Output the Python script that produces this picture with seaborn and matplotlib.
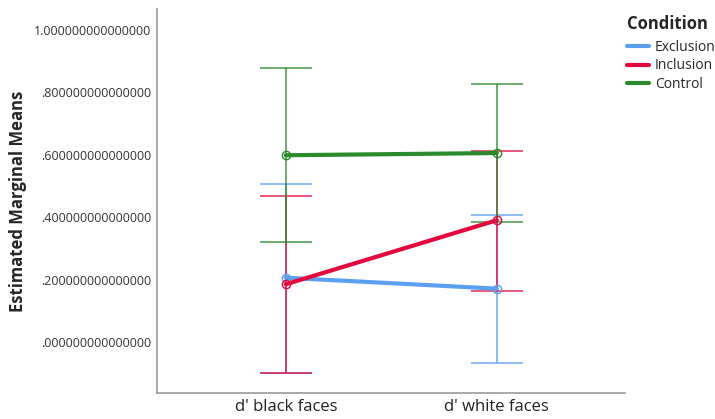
import numpy as np
import pandas as pd
import seaborn as sns
import matplotlib.pyplot as plt

# values
faces = ["d' black faces", "d' white faces"]
conditions = ["Exclusion", "Inclusion", "Control"]
exclusion_mean = [0.206, 0.171]
exclusion_low = [-0.098, -0.068]
exclusion_high = [0.506, 0.407]
inclusion_mean = [0.185, 0.390]
inclusion_low = [-0.100, 0.162]
inclusion_high = [0.469, 0.613]
control_mean = [0.598, 0.605]
control_low = [0.319, 0.385]
control_high = [0.877, 0.827]
yticks = [0.0, 0.2, 0.4, 0.6, 0.8, 1.0]

colors = {"Exclusion": "#5b9ff0", "Inclusion": "#e2093f", "Control": "#2b8a2b"}

means = {"Exclusion": exclusion_mean, "Inclusion": inclusion_mean, "Control": control_mean}
lows = {"Exclusion": exclusion_low, "Inclusion": inclusion_low, "Control": control_low}
highs = {"Exclusion": exclusion_high, "Inclusion": inclusion_high, "Control": control_high}

rows = []
for c in conditions:
    for f, m in zip(faces, means[c]):
        rows.append({"Face": f, "Condition": c, "Mean": m})
df = pd.DataFrame(rows)

sns.set_style("white")
plt.rcParams['font.family'] = ['Open Sans', 'DejaVu Sans']

fig = plt.figure(figsize=(7.15, 4.19), dpi=100)
ax = fig.add_axes([0.2196, 0.062, 0.874 - 0.2196, 0.9785 - 0.062])

# error bars first (thin, semi transparent)
for c in conditions:
    m = np.array(means[c])
    lo = m - np.array(lows[c])
    hi = np.array(highs[c]) - m
    ax.errorbar(faces, m, yerr=[lo, hi], fmt='none', ecolor=colors[c],
                elinewidth=1.3, capsize=19, capthick=1.3, alpha=0.75, zorder=2)

sns.lineplot(data=df, x="Face", y="Mean", hue="Condition", hue_order=conditions,
             palette=colors, linewidth=3, marker='o', markersize=6, ax=ax, zorder=3)

# hollow markers like SPSS
for line in ax.lines:
    if line.get_marker() == 'o':
        line.set_markeredgecolor(line.get_color())
        line.set_markerfacecolor('none')
        line.set_markeredgewidth(1.0)

ax.set_xlim(-0.61, 1.607)
ax.set_ylim(-0.163, 1.066)
ax.set_yticks(yticks)
ax.set_yticklabels([f"{v:.15f}".lstrip('0') if v < 1 else f"{v:.15f}" for v in yticks])
ax.tick_params(axis='y', length=0, labelsize=9, labelcolor='#333333', pad=4)
ax.tick_params(axis='x', length=0, labelsize=12, labelcolor='#222222', pad=4)
ax.set_xlabel("")
ax.set_ylabel("Estimated Marginal Means", fontsize=12, fontweight='bold', labelpad=5)

for s in ['top', 'right']:
    ax.spines[s].set_visible(False)
for s in ['left', 'bottom']:
    ax.spines[s].set_color('#999999')
    ax.spines[s].set_linewidth(1.2)

handles, labels = ax.get_legend_handles_labels()
for h in handles:
    h.set_marker('')
leg = ax.legend(handles, labels, loc='upper left',
                bbox_to_anchor=(627 / 715, 1 - 40 / 419), bbox_transform=fig.transFigure,
                frameon=False, fontsize=10, handlelength=1.6, handletextpad=0.4,
                labelspacing=0.25, borderaxespad=0, borderpad=0)
fig.text(627 / 715, 1 - 24 / 419, "Condition", fontsize=12, fontweight='bold',
         ha='left', va='center')

fig.savefig("out.png", dpi=100)
